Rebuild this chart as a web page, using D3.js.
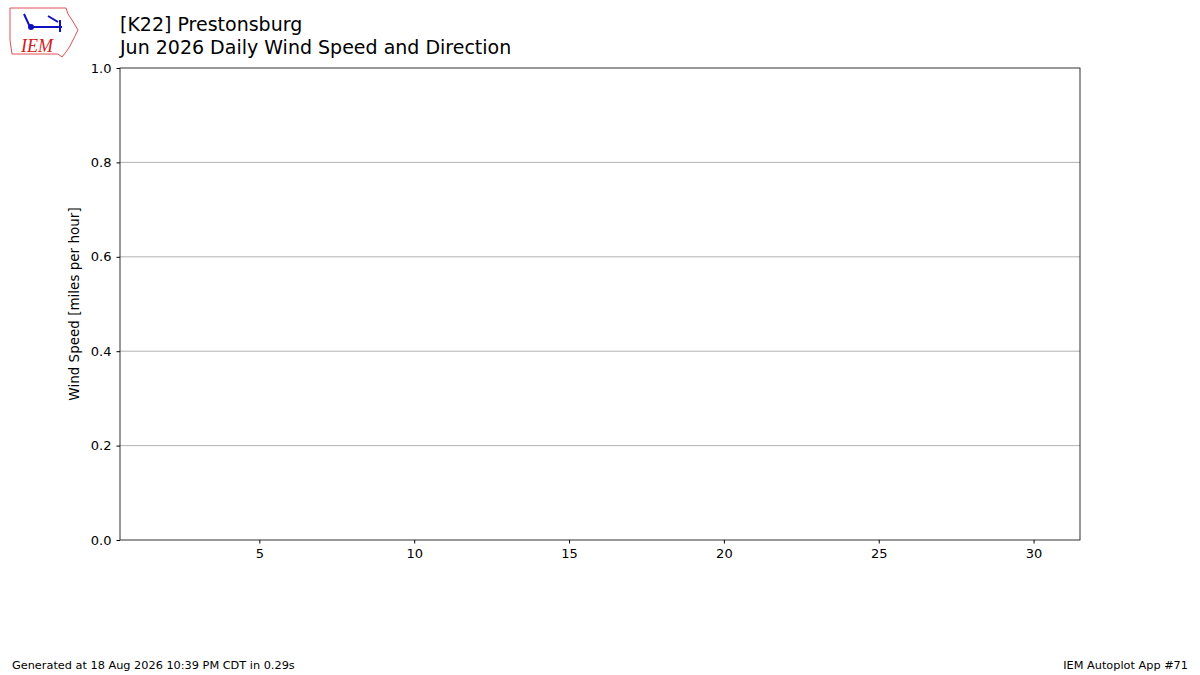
<!DOCTYPE html>
<html><head><meta charset="utf-8">
<script src="https://cdn.jsdelivr.net/npm/d3@7"></script>
<style>body{margin:0;background:#fff}</style>
</head><body>
<svg id="c" width="1200" height="675"></svg>
<script>
// data: no observations for this month
const days = []
const speeds = []
const xTicks = [5, 10, 15, 20, 25, 30]
const yTicks = [0, 0.2, 0.4, 0.6, 0.8, 1.0]

const svg = d3.select('#c').attr('font-family', 'DejaVu Sans')
const m = { left: 120, right: 1080, top: 68, bottom: 540 }

const x = d3.scaleLinear().domain([0.5, 31.5]).range([m.left, m.right])
const y = d3.scaleLinear().domain([0, 1]).range([m.bottom, m.top])

// grid
svg.append('g').selectAll('line')
    .data(yTicks.slice(1, -1))
    .join('line')
    .attr('x1', m.left).attr('x2', m.right)
    .attr('y1', d => y(d)).attr('y2', d => y(d))
    .attr('stroke', '#a0a0a0').attr('stroke-width', 0.8)

svg.append('g').selectAll('rect')
    .data(days)
    .join('rect')
    .attr('x', (d, i) => x(d) - 10).attr('y', (d, i) => y(speeds[i]))
    .attr('width', 20).attr('height', (d, i) => m.bottom - y(speeds[i]))
    .attr('fill', 'steelblue')

svg.append('rect')
    .attr('x', m.left).attr('y', m.top)
    .attr('width', m.right - m.left).attr('height', m.bottom - m.top)
    .attr('fill', 'none').attr('stroke', '#000').attr('stroke-width', 0.8)

const xa = svg.append('g').attr('transform', `translate(0,${m.bottom})`)
    .call(d3.axisBottom(x).tickValues(xTicks).tickSize(3.5).tickPadding(5))
const ya = svg.append('g').attr('transform', `translate(${m.left},0)`)
    .call(d3.axisLeft(y).tickValues(yTicks).tickFormat(d3.format('.1f')).tickSize(3.5).tickPadding(5))
for (const a of [xa, ya]) {
    a.select('.domain').remove()
    a.selectAll('text').attr('font-size', 13).attr('font-family', 'DejaVu Sans').attr('fill', '#000')
}

svg.append('text')
    .attr('transform', `translate(79,${(m.top + m.bottom) / 2}) rotate(-90)`)
    .attr('text-anchor', 'middle').attr('font-size', 13.5)
    .text('Wind Speed [miles per hour]')

svg.append('text').attr('x', 120).attr('y', 31).attr('font-size', 19).text('[K22] Prestonsburg')
svg.append('text').attr('x', 120).attr('y', 54).attr('font-size', 19).text('Jun 2026 Daily Wind Speed and Direction')

svg.append('text').attr('x', 12).attr('y', 669).attr('font-size', 11.3)
    .text('Generated at 18 Aug 2026 10:39 PM CDT in 0.29s')
svg.append('text').attr('x', 1188).attr('y', 669).attr('font-size', 11.3).attr('text-anchor', 'end')
    .text('IEM Autoplot App #71')

// logo
const logo = svg.append('g')
logo.append('path')
    .attr('d', 'M10,8 L66,8 L68,14 L72,20 L78,30 L74,38 L70,46 L66,52 L62,57 L58,54 L12,54 L10,40 Z')
    .attr('fill', '#fff').attr('stroke', '#e05050').attr('stroke-width', 1)
logo.append('path').attr('d', 'M30,27 L62,27 M60,20 L60,32 M24,14 L30,27 M48,16 L58,22')
    .attr('stroke', '#1010c0').attr('stroke-width', 2).attr('fill', 'none')
logo.append('circle').attr('cx', 31).attr('cy', 27).attr('r', 3).attr('fill', '#1010c0')
logo.append('text').attr('x', 21).attr('y', 52).attr('font-size', 18)
    .attr('font-family', 'Liberation Serif').attr('font-style', 'italic').attr('fill', '#d02020').text('IEM')
</script>
</body></html>
